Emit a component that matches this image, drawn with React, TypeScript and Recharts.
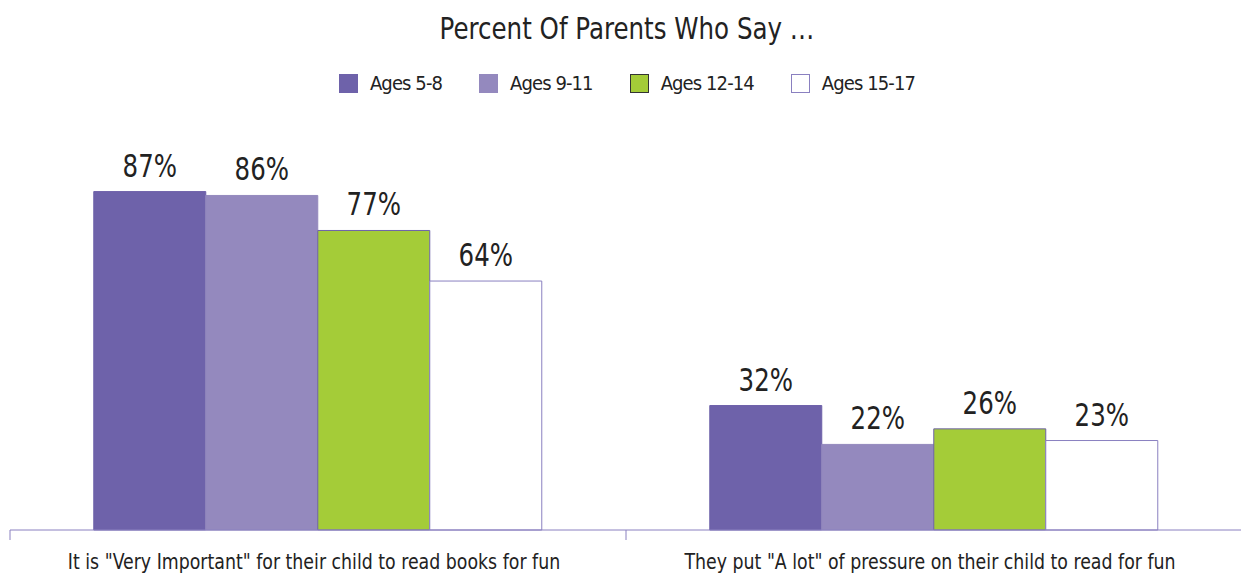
import React from "react"
import { BarChart, Bar, XAxis, YAxis, LabelList, Legend } from "recharts"

const categories = [
  'It is "Very Important" for their child to read books for fun',
  'They put "A lot" of pressure on their child to read for fun',
]
const ages58 = [87, 32]
const ages911 = [86, 22]
const ages1214 = [77, 26]
const ages1517 = [64, 23]

const seriesNames = ["Ages 5-8", "Ages 9-11", "Ages 12-14", "Ages 15-17"]

const data = categories.map((name, i) => ({
  name,
  a: ages58[i],
  b: ages911[i],
  c: ages1214[i],
  d: ages1517[i],
}))

const FONT = '"DejaVu Sans Condensed", "DejaVu Sans", sans-serif'
const AXIS = "#8a80c0"

const series = [
  { key: "a", fill: "#6e62aa", stroke: "#6e62aa" },
  { key: "b", fill: "#9489be", stroke: "#9489be" },
  { key: "c", fill: "#a4cc38", stroke: "#6e62aa" },
  { key: "d", fill: "#ffffff", stroke: AXIS },
]

const CHART_W = 1242
const MARGIN_L = 10
const halfBand = (CHART_W - MARGIN_L) / (2 * categories.length)

function CategoryTick(props: any) {
  const { x, y, payload } = props
  return (
    <g>
      <line x1={x - halfBand} y1={y - 8} x2={x - halfBand} y2={y + 2} stroke={AXIS} />
      <text
        transform={`translate(${x - 4},${y + 31}) scale(0.92,1)`}
        textAnchor="middle"
        fontSize={21}
        fill="#222"
        fontFamily={FONT}
      >
        {payload.value}
      </text>
    </g>
  )
}

function ValueLabel(props: any) {
  const { x, y, width, value } = props
  return (
    <text
      transform={`translate(${x + width / 2},${y - 15}) scale(0.85,1)`}
      textAnchor="middle"
      fontSize={32}
      fill="#222"
      fontFamily={FONT}
    >
      {`${value}%`}
    </text>
  )
}

function TopLegend() {
  return (
    <div style={{ display: "flex", justifyContent: "center", gap: 37, fontFamily: FONT, fontSize: 20, letterSpacing: -0.9, color: "#222" }}>
      {series.map((s, i) => (
        <div key={s.key} style={{ display: "flex", alignItems: "center" }}>
          <span
            style={{
              display: "inline-block",
              width: 17,
              height: 17,
              background: s.fill,
              border: `1px solid ${s.key === "c" ? "#333" : s.stroke}`,
              marginRight: 12,
            }}
          />
          {seriesNames[i]}
        </div>
      ))}
    </div>
  )
}

export default function App() {
  return (
    <div style={{ position: "absolute", left: 0, top: 0, width: 1241, height: 575, overflow: "hidden", background: "#fff" }}>
      <div
        style={{
          position: "absolute",
          top: 10,
          left: 0,
          width: 1254,
          textAlign: "center",
          fontFamily: FONT,
          fontSize: 31,
          color: "#222",
          transform: "scaleX(0.88)",
        }}
      >
        Percent Of Parents Who Say …
      </div>
      <BarChart
        width={CHART_W}
        height={575}
        data={data}
        margin={{ top: 117, right: 0, left: MARGIN_L, bottom: 0 }}
        barCategoryGap="13.6%"
        barGap={0}
      >
        <XAxis
          dataKey="name"
          axisLine={{ stroke: AXIS }}
          tickLine={false}
          tick={<CategoryTick />}
          interval={0}
          height={45}
        />
        <YAxis hide domain={[0, 100]} />
        <Legend
          verticalAlign="top"
          content={<TopLegend />}
          wrapperStyle={{ top: 71, left: 0, width: 1254 }}
        />
        {series.map((s, i) => (
          <Bar
            key={s.key}
            dataKey={s.key}
            name={seriesNames[i]}
            fill={s.fill}
            stroke={s.stroke}
            strokeWidth={1}
            isAnimationActive={false}
          >
            <LabelList dataKey={s.key} content={<ValueLabel />} />
          </Bar>
        ))}
      </BarChart>
    </div>
  )
}
